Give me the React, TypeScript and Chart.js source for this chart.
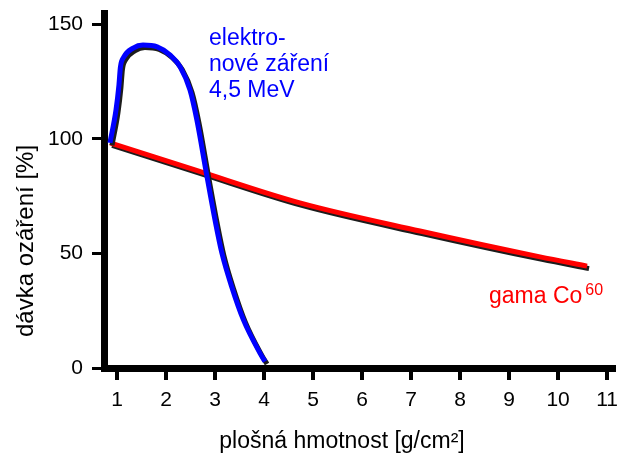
import { useEffect, useRef } from "react";
import { Chart, registerables } from "chart.js";

Chart.register(...registerables);

// ---- data ----
const electronX = [0.857, 0.98, 1.04, 1.07, 1.14, 1.33, 1.53, 1.82, 2.08, 2.29, 2.49, 2.63, 2.83, 3.0, 3.14, 3.34, 3.58, 3.92, 4.02];
const electronY = [98.3, 112.7, 123.6, 131.4, 135.8, 139.7, 141.0, 140.2, 136.7, 131.4, 121.4, 108.3, 84.3, 64.6, 50.2, 35.5, 21.0, 6.4, 2.8];

const gammaX = [0.86, 2.59, 4.73, 7.18, 9.63, 10.59];
const gammaY = [98.3, 86.5, 72.1, 59.8, 48.5, 44.5];

const xTickValues = [1, 2, 3, 4, 5, 6, 7, 8, 9, 10, 11];
const yTickValues = [0, 50, 100, 150];

const electronLabel = ["elektro-", "nové záření", "4,5 MeV"];
const gammaLabel = "gama Co";
const gammaSup = "60";
const xTitle = "plošná hmotnost [g/cm²]";
const yTitle = "dávka ozáření [%]";

const FONT = '"Liberation Sans", Arial, sans-serif';

const shadowPlugin = {
  id: "lineShadow",
  beforeDatasetDraw(chart: any) {
    const ctx = chart.ctx;
    ctx.save();
    ctx.shadowColor = "#1c1c1c";
    ctx.shadowBlur = 0;
    ctx.shadowOffsetX = 2;
    ctx.shadowOffsetY = 2.5;
  },
  afterDatasetDraw(chart: any) {
    chart.ctx.restore();
  },
};

const textPlugin = {
  id: "texts",
  afterDraw(chart: any) {
    const ctx = chart.ctx;
    ctx.save();
    ctx.textBaseline = "alphabetic";
    // electron label
    ctx.fillStyle = "#0000ff";
    ctx.font = `23px ${FONT}`;
    ctx.textAlign = "left";
    electronLabel.forEach((line, i) => {
      ctx.fillText(line, 209, 45 + i * 26);
    });
    // gamma label
    ctx.fillStyle = "#ff0000";
    ctx.font = `23px ${FONT}`;
    ctx.fillText(gammaLabel, 489, 303);
    const w = ctx.measureText(gammaLabel).width;
    ctx.font = `16px ${FONT}`;
    ctx.fillText(gammaSup, 489 + w + 3, 295);
    // axis titles
    ctx.fillStyle = "#000";
    ctx.font = `23px ${FONT}`;
    ctx.textAlign = "center";
    ctx.fillText(xTitle, 342, 448);
    ctx.save();
    ctx.translate(33, 241);
    ctx.rotate(-Math.PI / 2);
    ctx.font = `24px ${FONT}`;
    ctx.fillText(yTitle, 0, 0);
    ctx.restore();
    ctx.restore();
  },
};

export default function App() {
  const ref = useRef<HTMLCanvasElement | null>(null);

  useEffect(() => {
    if (!ref.current) return;
    const chart = new Chart(ref.current, {
      type: "line",
      data: {
        datasets: [
          {
            label: "elektronové záření 4,5 MeV",
            data: electronX.map((x, i) => ({ x, y: electronY[i] })),
            borderColor: "#0000ff",
            borderWidth: 5,
            pointRadius: 0,
            cubicInterpolationMode: "monotone",
            borderCapStyle: "butt",
            fill: false,
          },
          {
            label: "gama Co60",
            data: gammaX.map((x, i) => ({ x, y: gammaY[i] })),
            borderColor: "#ff0000",
            borderWidth: 5,
            pointRadius: 0,
            cubicInterpolationMode: "monotone",
            borderCapStyle: "butt",
            fill: false,
          },
        ],
      },
      options: {
        animation: false,
        responsive: false,
        layout: { padding: { left: 0, top: 13, right: 5, bottom: 0 } },
        plugins: {
          legend: { display: false },
          tooltip: { enabled: false },
        },
        scales: {
          x: {
            type: "linear",
            min: 0.735,
            max: 11.14,
            afterBuildTicks: (scale: any) => {
              scale.ticks = xTickValues.map((v) => ({ value: v }));
            },
            afterFit: (scale: any) => {
              scale.height = 89;
              scale.paddingLeft = 0;
              scale.paddingRight = 0;
            },
            ticks: {
              color: "#000",
              font: { family: FONT, size: 21 },
              padding: 8,
              maxRotation: 0,
              autoSkip: false,
            },
            grid: {
              drawOnChartArea: false,
              color: "#000",
              lineWidth: 4,
              tickLength: 12,
            },
            border: { color: "#000", width: 7 },
          },
          y: {
            type: "linear",
            min: 0,
            max: 155,
            afterBuildTicks: (scale: any) => {
              scale.ticks = yTickValues.map((v) => ({ value: v }));
            },
            afterFit: (scale: any) => {
              scale.width = 104;
              scale.paddingTop = 0;
              scale.paddingBottom = 0;
            },
            ticks: {
              color: "#000",
              font: { family: FONT, size: 21 },
              padding: 9,
              autoSkip: false,
            },
            grid: {
              drawOnChartArea: false,
              color: "#000",
              lineWidth: 3,
              tickLength: 12,
            },
            border: { color: "#000", width: 7 },
          },
        },
      },
      plugins: [shadowPlugin, textPlugin],
    } as any);
    return () => chart.destroy();
  }, []);

  return (
    <div style={{ position: "fixed", left: 0, top: 0, width: 619, height: 457, background: "#fff" }}>
      <canvas ref={ref} width={619} height={457} style={{ width: 619, height: 457, display: "block" }} />
    </div>
  );
}
